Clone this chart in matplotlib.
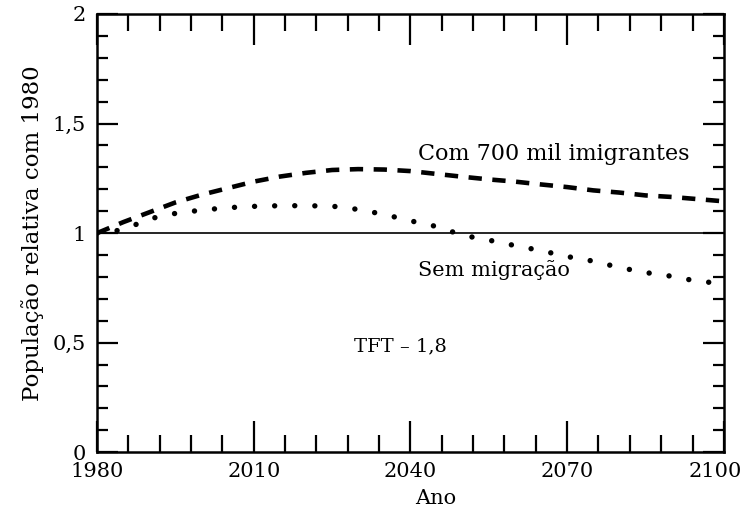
import matplotlib
matplotlib.use("Agg")
import matplotlib.pyplot as plt
import matplotlib.transforms as mtransforms
from matplotlib.ticker import MultipleLocator, FixedLocator

# Population relative to 1980 (total fertility rate 1.8)
anos = [1980, 1985, 1990, 1995, 2000, 2005, 2010, 2015, 2020, 2025, 2030, 2035, 2040,
        2045, 2050, 2055, 2060, 2065, 2070, 2075, 2080, 2085, 2090, 2095, 2100]
com_imigrantes = [1.00, 1.05, 1.095, 1.14, 1.175, 1.205, 1.235, 1.258, 1.275, 1.288, 1.292,
                  1.29, 1.283, 1.27, 1.257, 1.245, 1.235, 1.222, 1.21, 1.195, 1.185, 1.172,
                  1.165, 1.155, 1.145]
sem_migracao = [1.00, 1.015, 1.065, 1.09, 1.105, 1.116, 1.122, 1.125, 1.125, 1.123, 1.108,
                1.085, 1.056, 1.03, 0.99, 0.968, 0.943, 0.92, 0.893, 0.872, 0.843, 0.82,
                0.803, 0.78, 0.77]
xticks = [1980, 2010, 2040, 2070, 2100]
yticks = [0, 0.5, 1, 1.5, 2]
ytick_labels = ["0", "0,5", "1", "1,5", "2"]

plt.rcParams["font.family"] = ["DejaVu Serif"]

fig = plt.figure(figsize=(7.47, 5.18), dpi=100)
ax = fig.add_axes([0.130, 0.127, 0.839, 0.846])

ax.plot([anos[0], anos[-1]], [1, 1], color="black", lw=1.2)
ax.plot(anos, com_imigrantes, color="black", lw=3.3, linestyle=(0, (2.9, 2.3)),
        dash_capstyle="butt")
ax.plot(anos, sem_migracao, color="black", lw=3.9, linestyle=(0, (0.01, 3.7)),
        dash_capstyle="round")

ax.set_xlim(1980, 2100)
ax.set_ylim(0, 2)

ax.xaxis.set_major_locator(FixedLocator(xticks))
ax.xaxis.set_minor_locator(MultipleLocator(6))
ax.yaxis.set_major_locator(FixedLocator(yticks))
ax.yaxis.set_minor_locator(MultipleLocator(0.1))
ax.set_yticklabels(ytick_labels)

ax.tick_params(axis="x", which="major", direction="in", length=22, width=1.6,
               top=True, labelsize=15, pad=7)
ax.tick_params(axis="x", which="minor", direction="in", length=12, width=1.6, top=True)
ax.tick_params(axis="y", which="major", direction="in", length=15, width=1.6,
               right=True, labelsize=15, pad=8)
ax.tick_params(axis="y", which="minor", direction="in", length=8, width=1.6, right=True)

# keep the last year label inside the figure
last = ax.get_xticklabels()[-1]
last.set_transform(last.get_transform() +
                   mtransforms.ScaledTranslation(-6 / 72, 0, fig.dpi_scale_trans))

for s in ax.spines.values():
    s.set_linewidth(1.8)

ax.set_xlabel("Ano", fontsize=15)
ax.xaxis.set_label_coords(0.54, -0.085)
ax.set_ylabel("População relativa com 1980", fontsize=16.5, labelpad=6)

ax.text(2067.5, 1.36, "Com 700 mil imigrantes", fontsize=16, ha="center", va="center")
ax.text(2056, 0.83, "Sem migração", fontsize=15, ha="center", va="center")
ax.text(2038, 0.485, "TFT – 1,8", fontsize=14, ha="center", va="center")

fig.savefig("out.png", dpi=100)
